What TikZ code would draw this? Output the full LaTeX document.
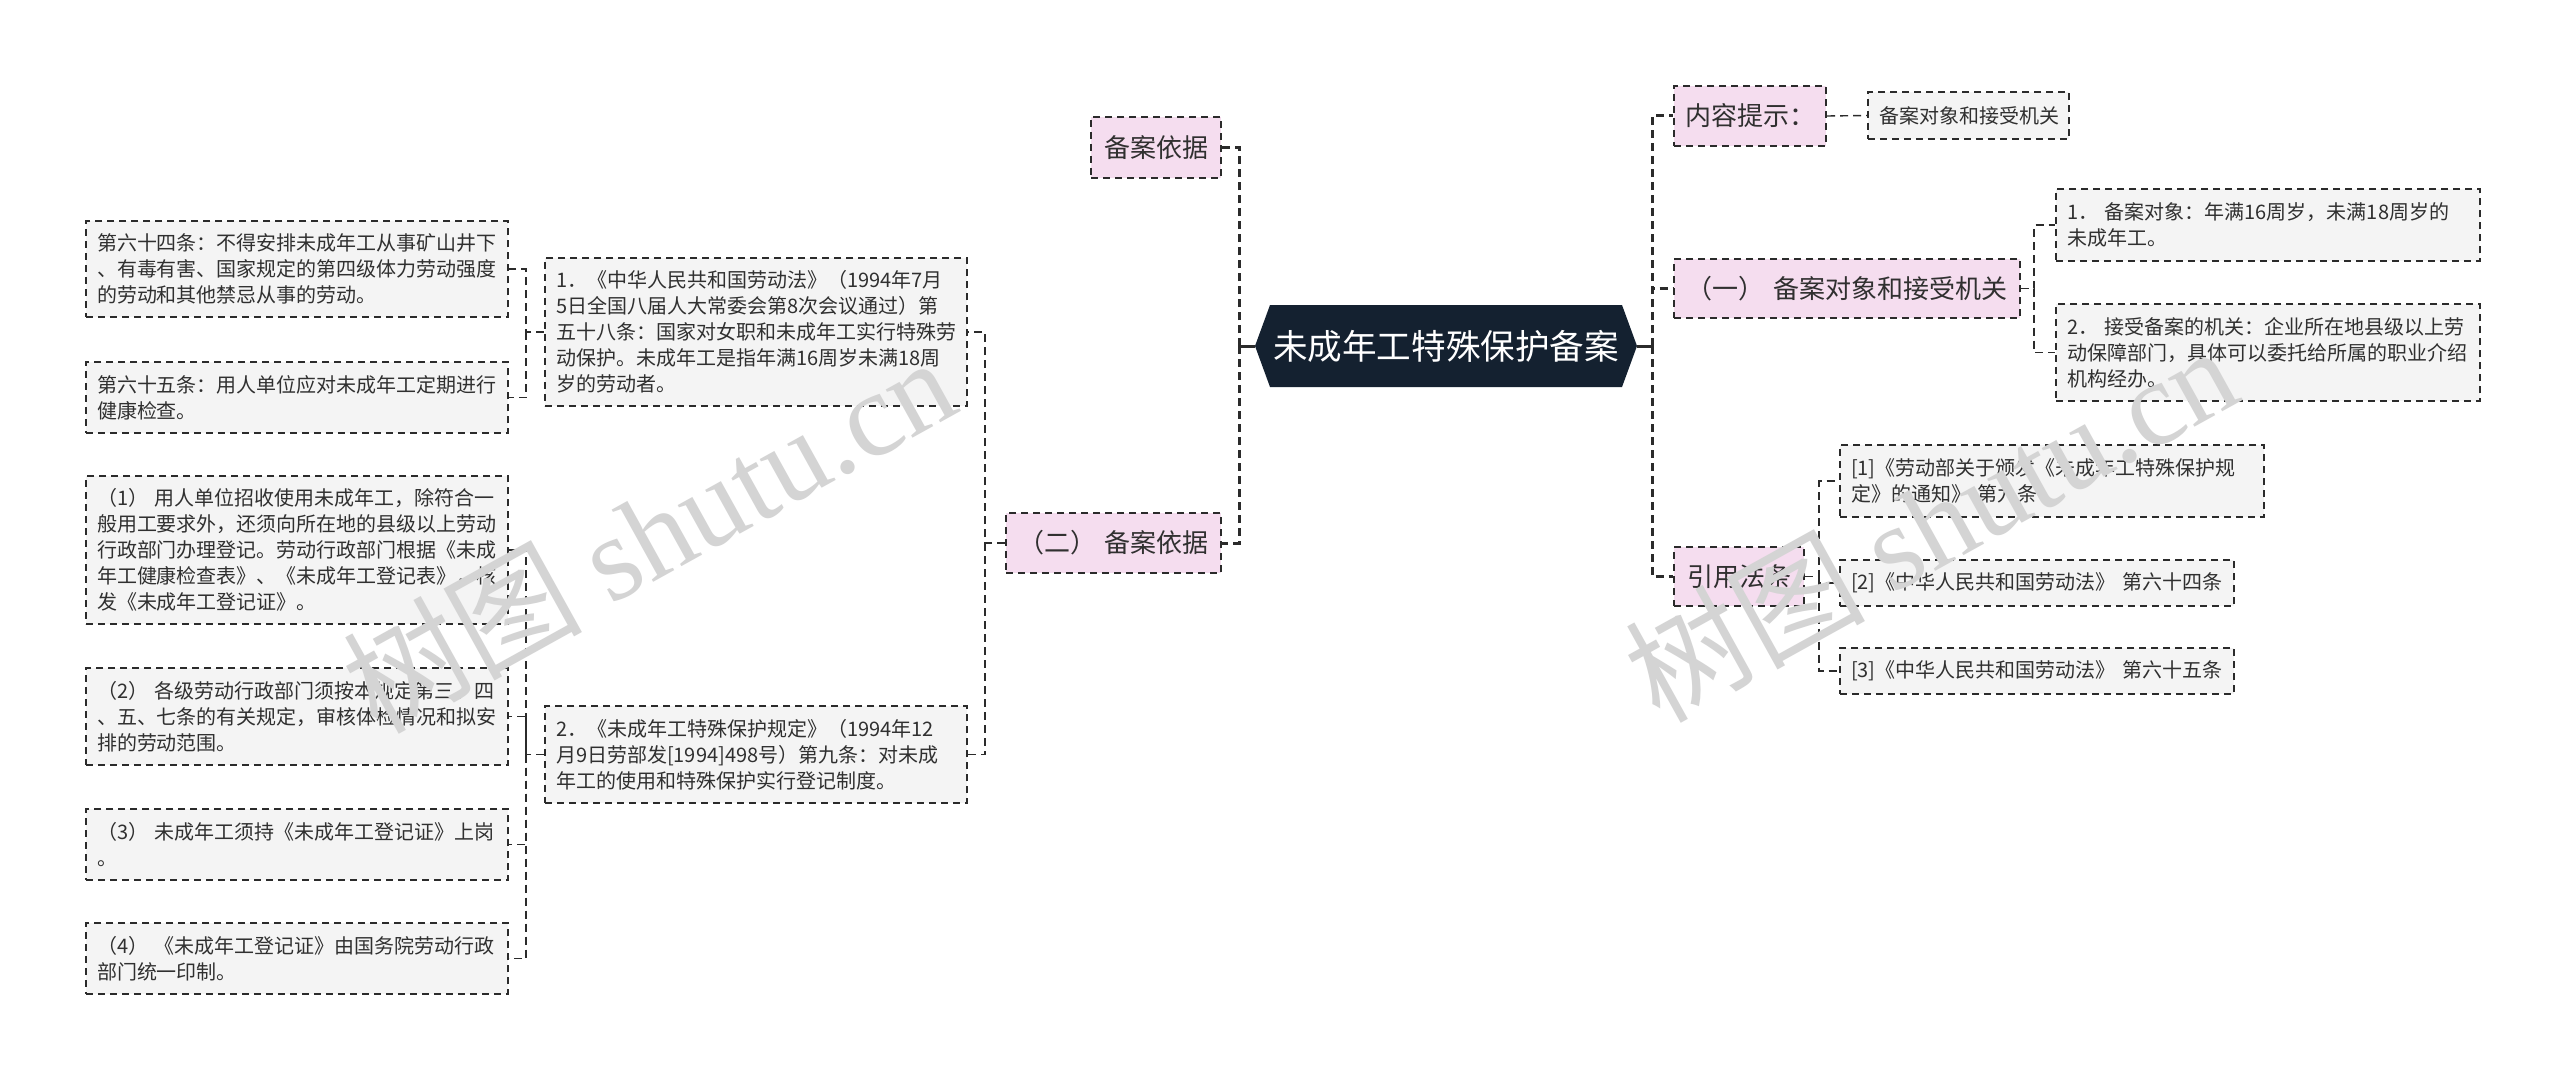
\documentclass[tikz,border=0pt]{standalone}
\usepackage{fontspec}
\setmainfont{Noto Sans CJK SC}
\newfontfamily\wmserif{Liberation Serif}
\definecolor{bordc}{HTML}{2B2B2B}
\definecolor{boxg}{HTML}{F4F4F4}
\definecolor{pinkc}{HTML}{F5DDEF}
\definecolor{navyc}{HTML}{142130}
\definecolor{txtc}{HTML}{303030}
\definecolor{wmc}{HTML}{D4D4D4}
\newcommand\mkbox[7]{%
  \pgfmathsetmacro\bw{(#5-#3)/2}%
  \pgfmathsetmacro\bh{(#6-#4)/2}%
  \pgfmathsetmacro\bcx{(#3+#5)/2}%
  \pgfmathsetmacro\bcy{(#4+#6)/2}%
  \pgfmathsetmacro\tw{\bw-11}%
  \node[#1, minimum width=\bw pt, minimum height=\bh pt, text width=\tw pt] (#2) at (\bcx,\bcy) {#7};}
\tikzset{
  gb/.style={draw=bordc, line width=1pt, dash pattern=on 3.5pt off 2.5pt, fill=boxg,
    inner xsep=5.5pt, inner ysep=0pt, align=left, text=txtc, font=\fontsize{10}{13}\selectfont},
  pk/.style={draw=bordc, line width=1pt, dash pattern=on 3.5pt off 2.5pt, fill=pinkc,
    inner xsep=5.5pt, inner ysep=0pt, align=center, text=txtc, font=\fontsize{13}{16}\selectfont},
  mainc/.style={draw=bordc, line width=1.5pt, dash pattern=on 4pt off 2.5pt},
  stubc/.style={draw=bordc, line width=1.5pt},
  subc/.style={draw=bordc, line width=0.7pt, dash pattern=on 4pt off 2.5pt},
  wm/.style={rotate=29, text=wmc, inner sep=0pt, font=\fontsize{60}{62}\selectfont},
}
\begin{document}
\begin{tikzpicture}[x=0.5pt, y=-0.5pt]
\useasboundingbox (0,0) rectangle (2560,1081);
\fill[white] (0,0) rectangle (2560,1081);

% junction columns
\coordinate (jL) at (526,0);
\coordinate (jM) at (985,0);
\coordinate (jC) at (1239,0);
\coordinate (jR) at (1652,0);
\coordinate (jRa) at (2034,0);
\coordinate (jRb) at (1819,0);

% central node
\fill[navyc] (1255,346) -- (1270,305) -- (1622,305) -- (1637,346) -- (1622,387) -- (1270,387) -- cycle;
\node[text=white, font=\fontsize{17.3}{20}\selectfont, minimum width=191pt, minimum height=41pt, inner sep=0pt] (c) at (1446,346) {未成年工特殊保护备案};

% left main branches
\mkbox{pk}{p1}{1091}{117}{1221}{178}{备案依据}
\mkbox{pk}{p2}{1006}{513}{1221}{573}{（二） 备案依据}

\mkbox{gb}{m1}{545}{258}{967}{406}{1．《中华人民共和国劳动法》（1994年7月\\5日全国八届人大常委会第8次会议通过）第\\五十八条：国家对女职和未成年工实行特殊劳\\动保护。未成年工是指年满16周岁未满18周\\岁的劳动者。}
\mkbox{gb}{m2}{545}{706}{967}{803}{2．《未成年工特殊保护规定》（1994年12\\月9日劳部发[1994]498号）第九条：对未成\\年工的使用和特殊保护实行登记制度。}

\mkbox{gb}{b64}{86}{221}{508}{317}{第六十四条：不得安排未成年工从事矿山井下\\、有毒有害、国家规定的第四级体力劳动强度\\的劳动和其他禁忌从事的劳动。}
\mkbox{gb}{b65}{86}{362}{508}{433}{第六十五条：用人单位应对未成年工定期进行\\健康检查。}

\mkbox{gb}{c1}{86}{476}{508}{624}{（1） 用人单位招收使用未成年工，除符合一\\般用工要求外，还须向所在地的县级以上劳动\\行政部门办理登记。劳动行政部门根据《未成\\年工健康检查表》、《未成年工登记表》，核\\发《未成年工登记证》。}
\mkbox{gb}{c2}{86}{668}{508}{765}{（2） 各级劳动行政部门须按本规定第三、四\\、五、七条的有关规定，审核体检情况和拟安\\排的劳动范围。}
\mkbox{gb}{c3}{86}{809}{508}{880}{（3） 未成年工须持《未成年工登记证》上岗\\。}
\mkbox{gb}{c4}{86}{923}{508}{994}{（4） 《未成年工登记证》由国务院劳动行政\\部门统一印制。}

% right main branches
\mkbox{pk}{r0}{1674}{86}{1826}{146}{内容提示：}
\mkbox{pk}{r1}{1674}{259}{2020}{318}{（一） 备案对象和接受机关}
\mkbox{pk}{r2}{1674}{547}{1804}{606}{引用法条}

\mkbox{gb}{r0c}{1868}{92}{2069}{139}{备案对象和接受机关}
\mkbox{gb}{r1a}{2056}{189}{2480}{261}{1． 备案对象：年满16周岁，未满18周岁的\\未成年工。}
\mkbox{gb}{r1b}{2056}{304}{2480}{401}{2． 接受备案的机关：企业所在地县级以上劳\\动保障部门，具体可以委托给所属的职业介绍\\机构经办。}

\mkbox{gb}{l1}{1840}{445}{2264}{517}{[1]《劳动部关于颁发《未成年工特殊保护规\\定》的通知》 第九条}
\mkbox{gb}{l2}{1840}{560}{2234}{606}{[2]《中华人民共和国劳动法》 第六十四条}
\mkbox{gb}{l3}{1840}{648}{2234}{694}{[3]《中华人民共和国劳动法》 第六十五条}

% connectors: centre
\draw[stubc] (c.west) -- (c.west -| jC);
\draw[mainc] (c.west -| jC) |- (p1.east);
\draw[mainc] (c.west -| jC) |- (p2.east);
\draw[stubc] (c.east) -- (c.east -| jR);
\draw[mainc] (c.east -| jR) |- (r0.west);
\draw[mainc] (c.east -| jR) |- (r1.west);
\draw[mainc] (c.east -| jR) |- (r2.west);

% left sub connectors
\draw[subc] (p2.west) -- (p2.west -| jM) |- (m1.east);
\draw[subc] (p2.west -| jM) |- (m2.east);
\draw[subc] (m1.west) -- (m1.west -| jL) |- (b64.east);
\draw[subc] (m1.west -| jL) |- (b65.east);
\draw[subc] (m2.west) -- (m2.west -| jL) |- (c1.east);
\draw[subc] (m2.west -| jL) |- (c2.east);
\draw[subc] (m2.west -| jL) |- (c3.east);
\draw[subc] (m2.west -| jL) |- (c4.east);

% right sub connectors
\draw[subc] (r0.east) -- (r0c.west);
\draw[subc] (r1.east) -- (r1.east -| jRa) |- (r1a.west);
\draw[subc] (r1.east -| jRa) |- (r1b.west);
\draw[subc] (r2.east) -- (r2.east -| jRb) |- (l1.west);
\draw[subc] (r2.east -| jRb) |- (l2.west);
\draw[subc] (r2.east -| jRb) |- (l3.west);

% watermarks
\node[wm] (wm1) at (648,533) {树图 {\wmserif shutu.cn}};
\node[wm] (wm2) at (1930,522) {树图 {\wmserif shutu.cn}};
\end{tikzpicture}
\end{document}
